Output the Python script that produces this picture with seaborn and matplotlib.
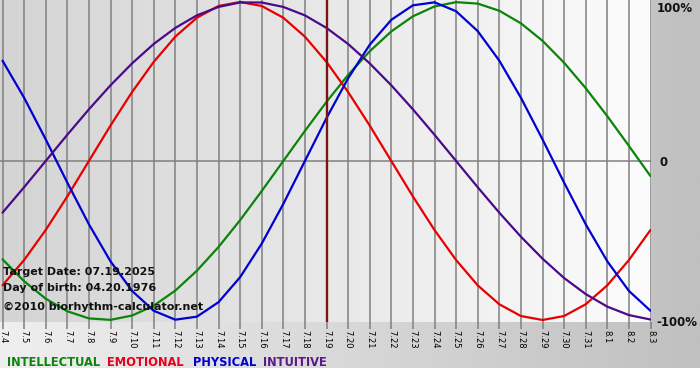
import numpy as np
import pandas as pd
import matplotlib
matplotlib.use("Agg")
import matplotlib.pyplot as plt
from matplotlib.colors import LinearSegmentedColormap
import seaborn as sns

# ---- data ----
days = ["7.4", "7.5", "7.6", "7.7", "7.8", "7.9", "7.10", "7.11", "7.12", "7.13",
        "7.14", "7.15", "7.16", "7.17", "7.18", "7.19", "7.20", "7.21", "7.22", "7.23",
        "7.24", "7.25", "7.26", "7.27", "7.28", "7.29", "7.30", "7.31", "8.1", "8.2", "8.3"]
intellectual = [-0.618, -0.756, -0.866, -0.945, -0.990, -0.999, -0.972, -0.910, -0.815, -0.690,
                -0.541, -0.372, -0.189, 0.000, 0.189, 0.372, 0.541, 0.690, 0.815, 0.910,
                0.972, 0.999, 0.990, 0.945, 0.866, 0.756, 0.618, 0.458, 0.282, 0.095, -0.095]
emotional = [-0.782, -0.623, -0.434, -0.223, 0.000, 0.223, 0.434, 0.623, 0.782, 0.901,
             0.975, 1.000, 0.975, 0.901, 0.782, 0.623, 0.434, 0.223, 0.000, -0.223,
             -0.434, -0.623, -0.782, -0.901, -0.975, -1.000, -0.975, -0.901, -0.782, -0.623, -0.434]
physical = [0.631, 0.398, 0.136, -0.136, -0.398, -0.631, -0.817, -0.942, -0.998, -0.979,
            -0.888, -0.731, -0.520, -0.270, 0.000, 0.270, 0.520, 0.731, 0.888, 0.979,
            0.998, 0.942, 0.817, 0.631, 0.398, 0.136, -0.136, -0.398, -0.631, -0.817, -0.942]
intuitive = [-0.325, -0.165, 0.000, 0.165, 0.325, 0.476, 0.614, 0.736, 0.837, 0.916,
             0.969, 0.997, 0.997, 0.969, 0.916, 0.837, 0.736, 0.614, 0.476, 0.325,
             0.165, 0.000, -0.165, -0.325, -0.476, -0.614, -0.736, -0.837, -0.916, -0.969, -0.997]
series_names = ["INTELLECTUAL", "EMOTIONAL", "PHYSICAL", "INTUITIVE"]
target_day = "7.19"
y_labels = ["100%", "0", "-100%"]
info_lines = ["Target Date: 07.19.2025", "Day of birth: 04.20.1976", "\u00a92010 biorhythm-calculator.net"]

colors = {"INTELLECTUAL": "#0a840a", "EMOTIONAL": "#e80000", "PHYSICAL": "#0000d0", "INTUITIVE": "#4a0a8a"}
legend_colors = {"INTELLECTUAL": "#0a840a", "EMOTIONAL": "#e8001c", "PHYSICAL": "#0000d0", "INTUITIVE": "#5a1a8a"}

rows = []
for name, vals in zip(series_names, [intellectual, emotional, physical, intuitive]):
    for i, v in enumerate(vals):
        rows.append({"idx": i, "value": v, "series": name})
df = pd.DataFrame(rows)

sns.set_theme(style="white")
plt.rcParams["font.family"] = ["DejaVu Sans"]

W, H = 700, 380
fig = plt.figure(figsize=(W / 100, H / 100), dpi=100)
fig.patch.set_facecolor("white")

# outer gradient background
bg = fig.add_axes([0, 12 / H, 1, 1 - 12 / H])
bg.set_axis_off()
cm_out = LinearSegmentedColormap.from_list("o", ["#efefef", "#c0c0c0"])
bg.imshow(np.linspace(0, 1, 256)[None, :], aspect="auto", cmap=cm_out,
          extent=[0, 1, 0, 1], interpolation="bilinear")
bg.set_xlim(0, 1); bg.set_ylim(0, 1)

n = len(days)
px_per_day = 21.6
x0px = 2.5
left_lim = -x0px / px_per_day
right_px = 651
right_lim = (right_px - x0px) / px_per_day
ax_h = 322
ax = fig.add_axes([0, (H - ax_h) / H, right_px / W, ax_h / H])
amp = 159.0
ylim = 1 + 2 / amp

cm_in = LinearSegmentedColormap.from_list("i", ["#d4d4d4", "#fcfcfc"])
ax.imshow(np.linspace(0, 1, 256)[None, :], aspect="auto", cmap=cm_in,
          extent=[left_lim, right_lim, -ylim, ylim], interpolation="bilinear", zorder=0)

for i in range(n):
    ax.axvline(i, color="#808080", lw=1.1, zorder=1)
ax.axhline(0, color="#808080", lw=1.1, zorder=1)

sns.lineplot(data=df, x="idx", y="value", hue="series", palette=colors,
             hue_order=series_names, legend=False, linewidth=1.6, ax=ax, zorder=3,
             estimator=None, sort=False)
ax.axvline(days.index(target_day), color="#7a1515", lw=1.7, zorder=4)

ax.set_xlim(left_lim, right_lim)
ax.set_ylim(-ylim, ylim)
ax.set_xticks(range(n))
ax.set_xticklabels(days, rotation=-90, fontsize=6, color="#000000", va="top", ha="center")
ax.tick_params(axis="x", length=5, width=1.1, color="#808080", direction="out", pad=1, bottom=True)
ax.set_yticks([])
ax.set_xlabel(""); ax.set_ylabel("")
for s in ax.spines.values():
    s.set_visible(False)

def ftxt(xp, yp, s, **kw):
    fig.text(xp / W, 1 - yp / H, s, **kw)

# right axis labels
ftxt(657, 8, y_labels[0], fontsize=8.5, fontweight="bold", color="#111111", va="center", ha="left")
ftxt(659, 162, y_labels[1], fontsize=8.5, fontweight="bold", color="#111111", va="center", ha="left")
ftxt(656, 322, y_labels[2], fontsize=8.5, fontweight="bold", color="#111111", va="center", ha="left")

# info text
for yp, s in zip([272, 288, 307], info_lines):
    ftxt(3, yp, s, fontsize=8.0, fontweight="bold", color="#111111", va="center", ha="left", zorder=10)

# legend text
for xp, name in zip([7, 107, 193, 263], series_names):
    ftxt(xp, 362, name, fontsize=8.3, fontweight="bold", color=legend_colors[name], va="center", ha="left")

fig.savefig("out.png", dpi=100, facecolor=fig.get_facecolor())
